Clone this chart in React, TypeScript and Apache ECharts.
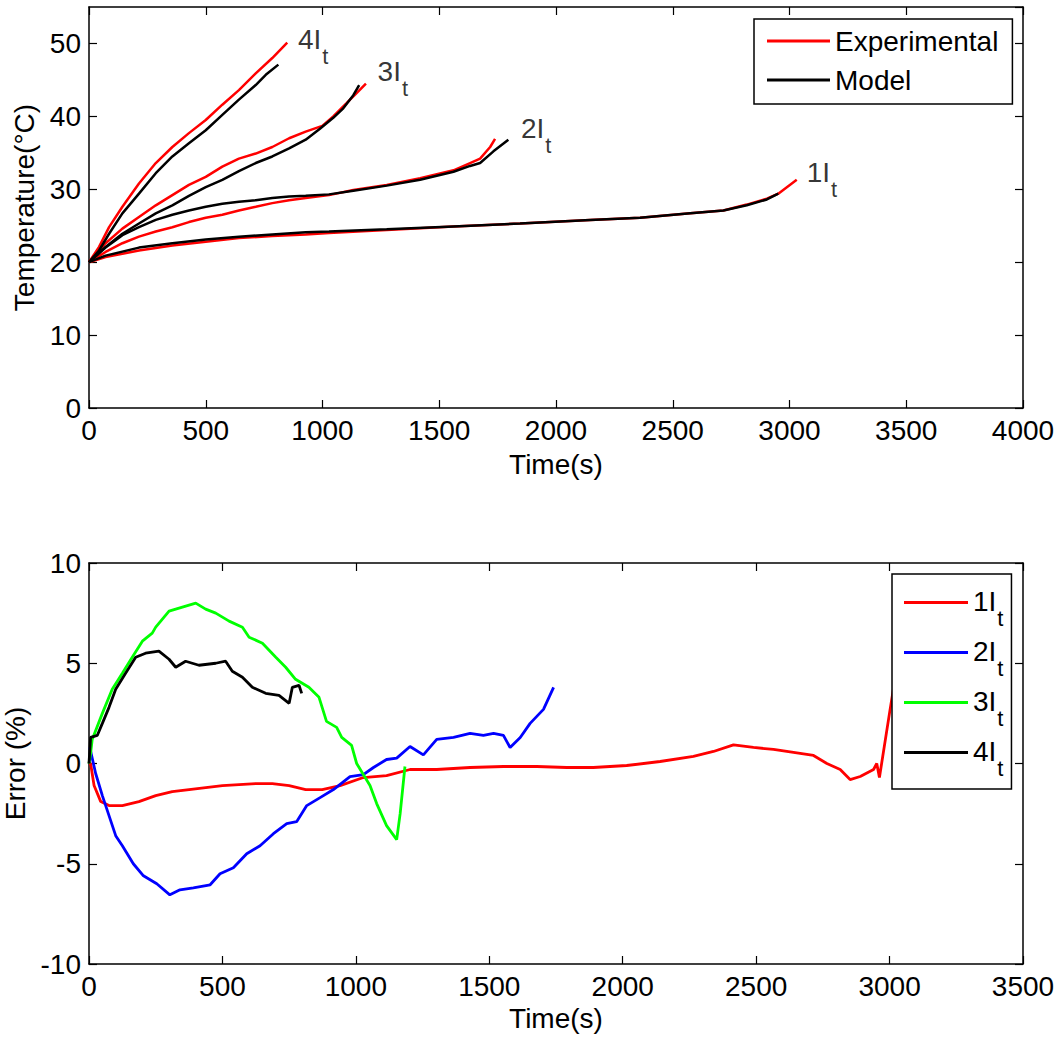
import React, { useEffect, useRef } from 'react';
import * as echarts from 'echarts';

const FONT = '"Liberation Sans", Arial, Helvetica, sans-serif';

// ---------- Top plot: temperature (°C) vs time (s) ----------
const exp1T = [0, 71, 214, 357, 500, 642, 785, 928, 1028, 1275, 1561, 1846, 2146, 2360, 2575, 2717, 2817, 2903, 2952, 3031];
const exp1V = [20, 20.7, 21.6, 22.3, 22.8, 23.3, 23.6, 23.8, 24.0, 24.4, 24.9, 25.3, 25.8, 26.1, 26.7, 27.1, 27.9, 28.7, 29.4, 31.3];
const mod1T = [0, 71, 214, 357, 500, 642, 785, 928, 1028, 1275, 1561, 1846, 2146, 2360, 2575, 2717, 2817, 2903, 2952];
const mod1V = [20, 20.9, 22.0, 22.6, 23.1, 23.5, 23.8, 24.1, 24.2, 24.5, 24.9, 25.3, 25.8, 26.1, 26.7, 27.1, 27.8, 28.6, 29.4];

const exp2T = [0, 71, 143, 214, 286, 357, 428, 500, 571, 642, 714, 785, 857, 928, 1028, 1132, 1275, 1418, 1561, 1632, 1675, 1718, 1739];
const exp2V = [20, 21.4, 22.6, 23.5, 24.2, 24.8, 25.5, 26.1, 26.5, 27.1, 27.6, 28.1, 28.5, 28.8, 29.2, 29.9, 30.6, 31.5, 32.6, 33.6, 34.2, 35.8, 36.9];
const mod2T = [0, 71, 143, 214, 286, 357, 428, 500, 571, 642, 714, 785, 857, 928, 1028, 1132, 1275, 1418, 1561, 1632, 1675, 1732, 1796];
const mod2V = [20, 22.0, 23.7, 24.8, 25.8, 26.5, 27.1, 27.6, 28.0, 28.3, 28.5, 28.8, 29.0, 29.1, 29.3, 29.8, 30.5, 31.3, 32.4, 33.2, 33.6, 35.2, 36.8];

const exp3T = [0, 71, 143, 214, 286, 357, 428, 500, 571, 642, 714, 785, 857, 928, 999, 1046, 1103, 1146, 1186];
const exp3V = [20, 22.6, 24.6, 26.2, 27.8, 29.2, 30.6, 31.7, 33.1, 34.2, 34.9, 35.8, 37.0, 37.9, 38.7, 40.0, 41.8, 43.2, 44.5];
const mod3T = [0, 71, 143, 214, 286, 357, 428, 500, 571, 642, 714, 785, 857, 928, 989, 1046, 1089, 1132, 1157];
const mod3V = [20, 22.1, 23.9, 25.3, 26.7, 27.8, 29.1, 30.3, 31.3, 32.5, 33.6, 34.5, 35.6, 36.8, 38.3, 39.8, 41.1, 42.9, 44.3];

const exp4T = [0, 43, 86, 143, 214, 286, 357, 428, 500, 571, 642, 714, 785, 849];
const exp4V = [20, 22.1, 24.8, 27.6, 30.8, 33.6, 35.8, 37.7, 39.5, 41.6, 43.6, 45.9, 48.0, 50.1];
const mod4T = [0, 43, 86, 143, 214, 286, 357, 428, 500, 571, 642, 714, 757, 811];
const mod4V = [20, 21.6, 23.9, 26.7, 29.4, 32.2, 34.5, 36.3, 38.1, 40.2, 42.3, 44.3, 45.7, 47.1];

// curve annotations (multiple of I_t), anchored at label top-left in data coords
const annoMult = ['4', '3', '2', '1'];
const annoT = [895, 1236, 1850, 3074];
const annoV = [52.4, 48.1, 40.2, 34.25];

// ---------- Bottom plot: error (%) vs time (s) ----------
const err1T = [0, 6, 19, 44, 75, 125, 187, 250, 312, 375, 500, 625, 687, 750, 812, 874, 941, 1028, 1115, 1203, 1303, 1428, 1553, 1678, 1790, 1890, 2015, 2140, 2265, 2340, 2415, 2490, 2565, 2640, 2715, 2765, 2815, 2852, 2890, 2940, 2952, 2962, 3002, 3030];
const err1V = [0, 0, -1.1, -1.9, -2.1, -2.1, -1.9, -1.6, -1.4, -1.3, -1.1, -1.0, -1.0, -1.1, -1.3, -1.3, -1.1, -0.7, -0.6, -0.3, -0.3, -0.2, -0.15, -0.15, -0.2, -0.2, -0.1, 0.1, 0.35, 0.6, 0.93, 0.8, 0.7, 0.55, 0.4, 0.0, -0.3, -0.8, -0.65, -0.3, 0.0, -0.7, 2.7, 5.0];

const err2T = [3, 25, 50, 75, 100, 125, 166, 204, 254, 303, 341, 391, 454, 491, 541, 591, 641, 691, 741, 778, 816, 866, 916, 978, 1028, 1066, 1115, 1153, 1203, 1253, 1303, 1366, 1428, 1478, 1516, 1553, 1578, 1616, 1653, 1703, 1741];
const err2V = [0.8, -0.5, -1.6, -2.6, -3.6, -4.1, -5.0, -5.6, -6.0, -6.55, -6.3, -6.2, -6.05, -5.5, -5.2, -4.5, -4.1, -3.5, -3.0, -2.9, -2.1, -1.7, -1.3, -0.65, -0.56, -0.2, 0.2, 0.27, 0.85, 0.43, 1.2, 1.3, 1.5, 1.4, 1.5, 1.4, 0.8, 1.3, 2.0, 2.7, 3.8];

const err3T = [0, 6, 12, 50, 87, 125, 162, 200, 237, 250, 300, 350, 400, 437, 475, 525, 575, 600, 650, 700, 737, 774, 824, 862, 890, 928, 947, 984, 1003, 1053, 1078, 1115, 1153, 1166, 1184];
const err3V = [0, 0.5, 1.2, 2.5, 3.7, 4.5, 5.3, 6.1, 6.5, 6.8, 7.6, 7.8, 8.0, 7.7, 7.5, 7.1, 6.8, 6.3, 6.0, 5.3, 4.8, 4.2, 3.8, 3.3, 2.1, 1.8, 1.3, 0.9, 0.0, -1.1, -2.0, -3.1, -3.8, -2.5, -0.15];

const err4T = [0, 6, 31, 50, 75, 100, 137, 175, 212, 262, 300, 325, 362, 412, 475, 512, 537, 575, 612, 662, 712, 750, 762, 787, 797];
const err4V = [0, 1.3, 1.4, 2.0, 2.8, 3.7, 4.5, 5.3, 5.5, 5.6, 5.2, 4.8, 5.1, 4.9, 5.0, 5.1, 4.6, 4.3, 3.8, 3.5, 3.4, 3.0, 3.8, 3.9, 3.5];

const errNames = ['1It', '2It', '3It', '4It'];
const errColors = ['#ff0000', '#0000ff', '#00ff00', '#000000'];

const zip = (t: number[], v: number[]) => t.map((x, i) => [x, v[i]]);

const RED = '#ff0000';
const BLACK = '#000000';
const FS = 28;

const richSub = {
  a: { fontSize: FS, lineHeight: 31, verticalAlign: 'top', fontFamily: FONT, color: '#000' },
  b: { fontSize: 22, lineHeight: 24, verticalAlign: 'top', padding: [20, 0, 0, 1], fontFamily: FONT, color: '#000' },
};

function axis(extra: any, showLabel: boolean, labelExtra: any = {}) {
  return {
    axisLine: { show: true, onZero: false, lineStyle: { color: '#000', width: 1.5 } },
    axisTick: { show: true, inside: true, length: 8, lineStyle: { color: '#000', width: 1.2 } },
    splitLine: { show: false },
    axisLabel: {
      show: showLabel,
      color: '#000',
      fontSize: FS,
      fontFamily: FONT,
      margin: 8,
      formatter: (v: number) => String(v),
      ...labelExtra,
    },
    nameTextStyle: { color: '#000', fontSize: FS, fontFamily: FONT },
    ...extra,
  };
}

function buildOption() {
  const lineSeries = (name: string, data: number[][], color: string, xi: number, yi: number, width: number) => ({
    type: 'line',
    name,
    data,
    xAxisIndex: xi,
    yAxisIndex: yi,
    symbol: 'none',
    showSymbol: false,
    lineStyle: { color, width },
    itemStyle: { color },
    emphasis: { disabled: true },
    z: 3,
  });

  const topPairs: [number[], number[], number[], number[]][] = [
    [exp1T, exp1V, mod1T, mod1V],
    [exp2T, exp2V, mod2T, mod2V],
    [exp3T, exp3V, mod3T, mod3V],
    [exp4T, exp4V, mod4T, mod4V],
  ];
  const series: any[] = [];
  topPairs.forEach(([et, ev]) => series.push(lineSeries('Experimental', zip(et, ev), RED, 0, 0, 2.5)));
  topPairs.forEach(([, , mt, mv]) => series.push(lineSeries('Model', zip(mt, mv), BLACK, 0, 0, 2.5)));

  series.push({
    type: 'scatter',
    xAxisIndex: 0,
    yAxisIndex: 0,
    symbolSize: 0,
    silent: true,
    data: annoT.map((t, i) => [t, annoV[i], annoMult[i]]),
    label: {
      show: true,
      position: [0, 0],
      align: 'left',
      verticalAlign: 'top',
      formatter: (p: any) => `{a|${p.data[2]}I}{b|t}`,
      rich: richSub,
    },
  });

  const errData = [zip(err1T, err1V), zip(err2T, err2V), zip(err3T, err3V), zip(err4T, err4V)];
  errData.forEach((d, i) => series.push(lineSeries(errNames[i], d, errColors[i], 2, 2, 2.8)));

  return {
    animation: false,
    backgroundColor: '#ffffff',
    textStyle: { fontFamily: FONT, color: '#000' },
    grid: [
      { left: 89, right: 37, top: 7, bottom: 630, containLabel: false, outerBoundsMode: 'none' },
      { left: 89, right: 37, top: 563, bottom: 74, containLabel: false, outerBoundsMode: 'none' },
    ],
    xAxis: [
      axis({ gridIndex: 0, type: 'value', min: 0, max: 4000, interval: 500, position: 'bottom', name: 'Time(s)', nameLocation: 'middle', nameGap: 42 }, true),
      axis({ gridIndex: 0, type: 'value', min: 0, max: 4000, interval: 500, position: 'top' }, false),
      axis({ gridIndex: 1, type: 'value', min: 0, max: 3500, interval: 500, position: 'bottom', name: 'Time(s)', nameLocation: 'middle', nameGap: 40 }, true),
      axis({ gridIndex: 1, type: 'value', min: 0, max: 3500, interval: 500, position: 'top' }, false),
    ],
    yAxis: [
      axis({ gridIndex: 0, type: 'value', min: 0, max: 55, interval: 10, position: 'left', name: 'Temperature(°C)', nameLocation: 'middle', nameGap: 47 }, true, { showMaxLabel: false }),
      axis({ gridIndex: 0, type: 'value', min: 0, max: 55, interval: 10, position: 'right' }, false),
      axis({ gridIndex: 1, type: 'value', min: -10, max: 10, interval: 5, position: 'left', name: 'Error (%)', nameLocation: 'middle', nameGap: 48 }, true),
      axis({ gridIndex: 1, type: 'value', min: -10, max: 10, interval: 5, position: 'right' }, false),
    ],
    legend: [
      {
        data: ['Experimental', 'Model'],
        orient: 'vertical',
        left: 754,
        top: 19,
        padding: [8, 14, 10, 13],
        itemGap: 11,
        itemWidth: 63,
        itemHeight: 3,
        itemTextGap: 8,
        icon: 'rect',
        backgroundColor: '#fff',
        borderColor: '#000',
        borderWidth: 1.5,
        borderRadius: 0,
        selectedMode: false,
        textStyle: { fontSize: FS, fontFamily: FONT, color: '#000' },
      },
      {
        data: errNames,
        orient: 'vertical',
        left: 892,
        top: 574,
        padding: [13, 8, 10, 12],
        itemGap: 8,
        itemWidth: 64,
        itemHeight: 3,
        itemTextGap: 9,
        icon: 'rect',
        backgroundColor: '#fff',
        borderColor: '#000',
        borderWidth: 1.5,
        borderRadius: 0,
        selectedMode: false,
        formatter: (name: string) => `{a|${name.slice(0, 2)}}{b|${name.slice(2)}}`,
        textStyle: { fontSize: FS, fontFamily: FONT, color: '#000', rich: richSub },
      },
    ],
    series,
  };
}

export default function App() {
  const ref = useRef<HTMLDivElement>(null);
  useEffect(() => {
    if (!ref.current) return;
    const chart = echarts.init(ref.current, null, { renderer: 'svg' });
    chart.setOption(buildOption() as any);
    return () => chart.dispose();
  }, []);
  return (
    <div
      ref={ref}
      style={{ position: 'fixed', left: 0, top: 0, width: 1060, height: 1038, background: '#fff' }}
    />
  );
}
